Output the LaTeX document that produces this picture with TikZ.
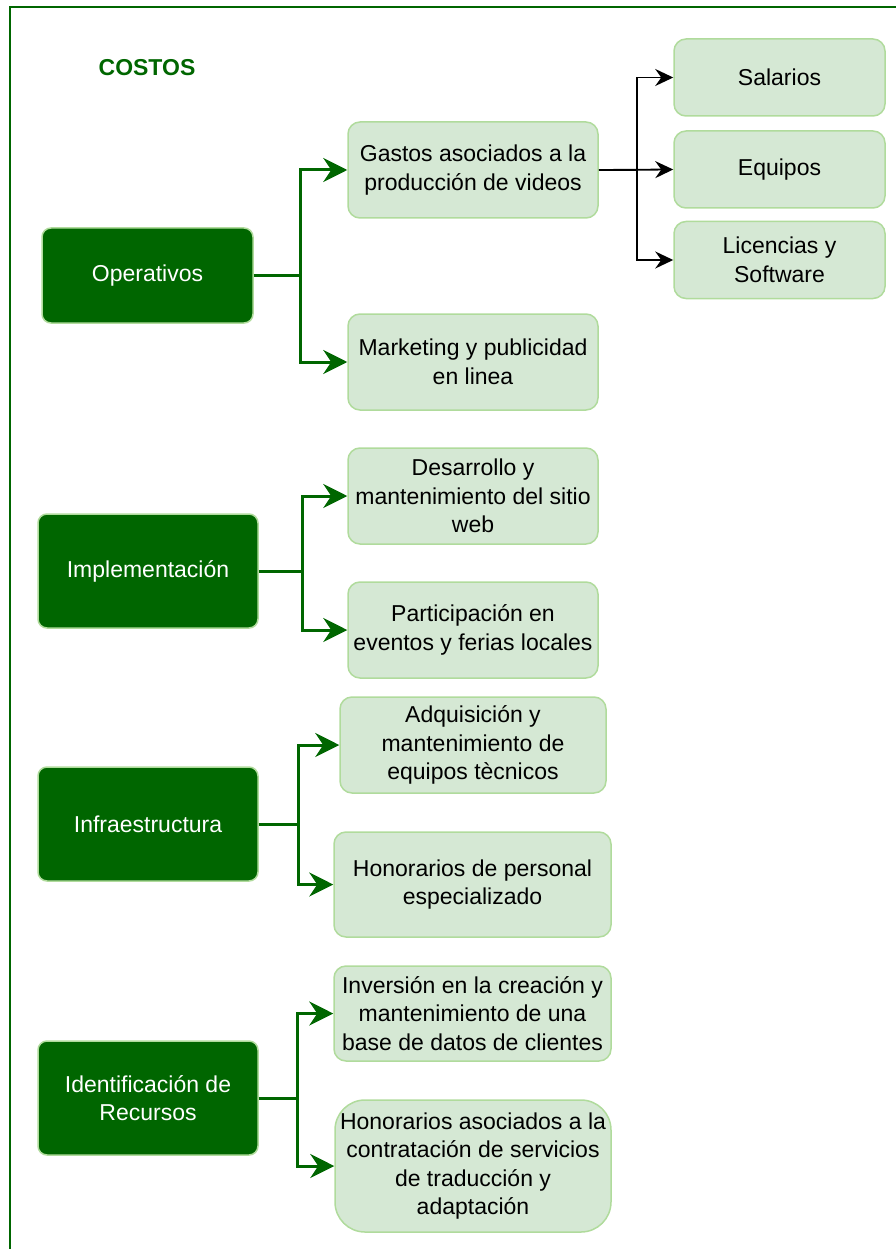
\documentclass[tikz,border=0pt]{standalone}
\usepackage{fontspec}
\setmainfont{Liberation Sans}
\usetikzlibrary{arrows.meta}
\definecolor{darkgrn}{HTML}{006600}
\definecolor{palegrn}{HTML}{D5E8D4}
\definecolor{edgegrn}{HTML}{B0DB9C}
\begin{document}
\begin{tikzpicture}[
    x=1pt, y=-1pt,
    category/.style={rectangle, draw=edgegrn, fill=darkgrn, line width=1.5pt, rounded corners=9pt, text=white, font=\fontsize{23}{28.5}\selectfont, align=center, inner sep=0pt},
    item/.style={rectangle, draw=edgegrn, fill=palegrn, line width=1.5pt, rounded corners=12pt, font=\fontsize{23}{28.5}\selectfont, align=center, inner sep=0pt},
    grnlink/.style={draw=darkgrn, line width=3pt, -{Stealth[length=24pt, width=24pt, inset=8pt]}},
    blklink/.style={draw=black, line width=1.8pt, -{Stealth[length=18pt, width=17pt, inset=6pt]}}
]
\useasboundingbox (0,0) rectangle (895,1249);

% ==================== FRAME & TITLE ====================
\draw[darkgrn, line width=2.5pt] (10,1260) |- (905,7);
\node[font=\fontsize{23}{28}\selectfont\bfseries, text=darkgrn] (title) at (147,68) {COSTOS};

% ==================== CATEGORIES ====================
\node[category, minimum width=211, minimum height=95] (ope) at (147.5,275.5) {Operativos};
\node[category, minimum width=220, minimum height=114] (imp) at (148,571) {Implementación};
\node[category, minimum width=220, minimum height=114] (inf) at (148,824) {Infraestructura};
\node[category, minimum width=220, minimum height=114] (ide) at (148,1098) {Identificación de\\Recursos};

% ==================== COST ITEMS ====================
\node[item, minimum width=250, minimum height=96] (gas) at (473,170) {Gastos asociados a la\\producción de videos};
\node[item, minimum width=250, minimum height=96] (mkt) at (473,362) {Marketing y publicidad\\en linea};
\node[item, minimum width=250, minimum height=96] (des) at (473,496) {Desarrollo y\\mantenimiento del sitio\\web};
\node[item, minimum width=250, minimum height=96] (par) at (473,630) {Participación en\\eventos y ferias locales};
\node[item, minimum width=266, minimum height=96] (adq) at (473,745) {Adquisición y\\mantenimiento de\\equipos tècnicos};
\node[item, minimum width=277, minimum height=105] (hon) at (472.5,884.5) {Honorarios de personal\\especializado};
\node[item, minimum width=277, minimum height=95] (inv) at (472.5,1013.5) {Inversión en la creación y\\mantenimiento de una\\base de datos de clientes};
\node[item, minimum width=276, minimum height=132, rounded corners=30pt] (tra) at (473,1166) {Honorarios asociados a la\\contratación de servicios\\de traducción y\\adaptación};

% ==================== VIDEO PRODUCTION DETAIL ====================
\node[item, minimum width=211, minimum height=77] (sal) at (779.5,77.5) {Salarios};
\node[item, minimum width=211, minimum height=77] (equ) at (779.5,169.5) {Equipos};
\node[item, minimum width=211, minimum height=77] (lic) at (779.5,260) {Licencias y\\Software};

% ==================== CONNECTORS ====================
\draw[grnlink] (ope.east) -- ++(47,0) |- (gas.west);
\draw[grnlink] (ope.east) -- ++(47,0) |- (mkt.west);
\draw[grnlink] (imp.east) -- ++(44,0) |- (des.west);
\draw[grnlink] (imp.east) -- ++(44,0) |- (par.west);
\draw[grnlink] (inf.east) -- ++(40,0) |- (adq.west);
\draw[grnlink] (inf.east) -- ++(40,0) |- (hon.west);
\draw[grnlink] (ide.east) -- ++(39,0) |- (inv.west);
\draw[grnlink] (ide.east) -- ++(39,0) |- (tra.west);

\draw[blklink] (gas.east) -- ++(38,0) |- (sal.west);
\draw[blklink] (gas.east) -- (equ.west);
\draw[blklink] (gas.east) -- ++(38,0) |- (lic.west);

\end{tikzpicture}
\end{document}
